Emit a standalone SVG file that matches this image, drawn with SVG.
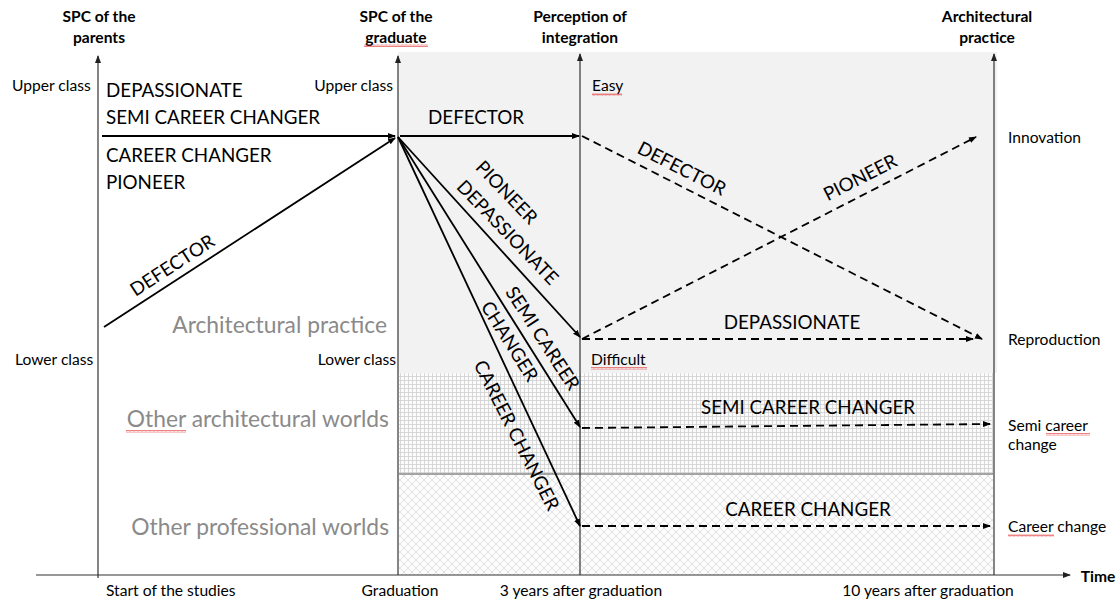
<svg xmlns="http://www.w3.org/2000/svg" width="1119" height="601" viewBox="0 0 1119 601">
<style>
.t{font-family:Lato,"Open Sans",sans-serif;fill:#000}
.s{font-size:15.6px}
.b{font-size:15.6px;font-weight:bold;text-anchor:middle}
.L{font-size:18.8px}
.g{font-size:22.8px;fill:#8a8a8a;text-anchor:end}
.ax{stroke:#333;stroke-width:1.2;fill:none}
.sol{stroke:#000;stroke-width:1.8;fill:none}
.dash{stroke:#000;stroke-width:1.8;fill:none;stroke-dasharray:8 5}
</style>
<defs>
<marker id="ah" markerWidth="8" markerHeight="8" refX="7" refY="4" orient="auto" markerUnits="userSpaceOnUse"><path d="M0,1 L8,4 L0,7 Z" fill="#000"/></marker>
<marker id="aax" markerWidth="8" markerHeight="10" refX="7" refY="4" orient="auto" markerUnits="userSpaceOnUse"><path d="M0,1 L8,4 L0,7 Z" fill="#222"/></marker>
<pattern id="grid" width="4" height="4" patternUnits="userSpaceOnUse"><rect width="4" height="4" fill="#fbfbfb"/><path d="M0 0.5H4M0.5 0V4" stroke="#cfcfcf" stroke-width="0.8"/></pattern>
<pattern id="cross" width="8" height="8" patternUnits="userSpaceOnUse"><rect width="8" height="8" fill="#fcfcfc"/><path d="M0 0L8 8M8 0L0 8" stroke="#d6d6d6" stroke-width="0.7"/></pattern>
<pattern id="sq" width="4" height="3" patternUnits="userSpaceOnUse"><path d="M0 2.5L1 0.5L2 2.5L3 0.5L4 2.5" stroke="#e03030" stroke-width="0.6" fill="none"/></pattern>
</defs>

<g id="regions">
<rect x="398" y="52" width="599" height="321" fill="#f2f2f2"/>
<rect x="399" y="373" width="594" height="101" fill="url(#grid)"/>
<rect x="399" y="474" width="594" height="101" fill="url(#cross)"/>
<line x1="399" y1="474" x2="993" y2="474" stroke="#555" stroke-width="1.2"/>
</g>

<g id="axes">
<line class="ax" x1="98" y1="578" x2="98" y2="56" marker-end="url(#aax)"/>
<line class="ax" x1="398" y1="575" x2="398" y2="56" marker-end="url(#aax)"/>
<line class="ax" x1="580" y1="575" x2="580" y2="54" marker-end="url(#aax)"/>
<line class="ax" x1="994" y1="575" x2="994" y2="54" marker-end="url(#aax)"/>
<line class="ax" x1="36" y1="575" x2="1070" y2="575" marker-end="url(#aax)"/>
</g>

<g id="axis-labels">
<text class="t b" x="99" y="22">SPC of the</text>
<text class="t b" x="99" y="43">parents</text>
<text class="t b" x="396" y="22">SPC of the</text>
<text class="t b" x="396" y="43">graduate</text>
<text class="t b" x="580" y="22">Perception of</text>
<text class="t b" x="580" y="43">integration</text>
<text class="t b" x="987" y="22">Architectural</text>
<text class="t b" x="987" y="43">practice</text>
<text class="t b" x="1098" y="582">Time</text>
<text class="t s" x="12" y="91">Upper class</text>
<text class="t s" x="393" y="91" text-anchor="end">Upper class</text>
<text class="t s" x="15" y="365">Lower class</text>
<text class="t s" x="396" y="365" text-anchor="end">Lower class</text>
<text class="t s" x="592" y="91">Easy</text>
<text class="t s" x="591" y="365">Difficult</text>
<text class="t s" x="106" y="596">Start of the studies</text>
<text class="t s" x="400" y="596" text-anchor="middle">Graduation</text>
<text class="t s" x="581" y="596" text-anchor="middle">3 years after graduation</text>
<text class="t s" x="928" y="596" text-anchor="middle">10 years after graduation</text>
<text class="t s" x="1008" y="143">Innovation</text>
<text class="t s" x="1008" y="345">Reproduction</text>
<text class="t s" x="1008" y="431">Semi career</text>
<text class="t s" x="1008" y="450">change</text>
<text class="t s" x="1008" y="532">Career change</text>
<text class="t g" x="387" y="333">Architectural practice</text>
<text class="t g" x="389" y="427">Other architectural worlds</text>
<text class="t g" x="389" y="535">Other professional worlds</text>
</g>

<g id="spellmarks">
<rect x="364" y="44" width="64" height="3" fill="url(#sq)"/>
<rect x="592" y="93" width="30" height="3" fill="url(#sq)"/>
<rect x="591" y="367" width="56" height="3" fill="url(#sq)"/>
<rect x="126" y="430" width="60" height="3" fill="url(#sq)"/>
<rect x="1046" y="433" width="44" height="3" fill="url(#sq)"/>
<rect x="1008" y="534" width="46" height="3" fill="url(#sq)"/>
</g>

<g id="connectors">
<line class="sol" x1="102" y1="136" x2="395" y2="136" marker-end="url(#ah)"/>
<line class="sol" x1="104" y1="327" x2="395" y2="138" marker-end="url(#ah)"/>
<line class="sol" x1="400" y1="136" x2="579" y2="136" marker-end="url(#ah)"/>
<line class="sol" x1="398" y1="137" x2="580" y2="337" marker-end="url(#ah)"/>
<line class="sol" x1="398" y1="137" x2="580" y2="427" marker-end="url(#ah)"/>
<line class="sol" x1="398" y1="137" x2="580" y2="526" marker-end="url(#ah)"/>
<line class="dash" x1="582" y1="136" x2="982" y2="339" marker-end="url(#ah)"/>
<line class="dash" x1="582" y1="339" x2="976" y2="137" marker-end="url(#ah)"/>
<line class="dash" x1="582" y1="339" x2="973" y2="339" marker-end="url(#ah)"/>
<line class="dash" x1="582" y1="428" x2="990" y2="424" marker-end="url(#ah)"/>
<line class="dash" x1="582" y1="526" x2="990" y2="526" marker-end="url(#ah)"/>
</g>

<g id="path-labels">
<text class="t L" x="106" y="97">DEPASSIONATE</text>
<text class="t L" x="106" y="124">SEMI CAREER CHANGER</text>
<text class="t L" x="106" y="162">CAREER CHANGER</text>
<text class="t L" x="106" y="189">PIONEER</text>
<text class="t L" x="172" y="272" text-anchor="middle" transform="rotate(-33 172 265)">DEFECTOR</text>
<text class="t L" x="428" y="124">DEFECTOR</text>
<text class="t L" x="507" y="199" text-anchor="middle" transform="rotate(46 507 192)">PIONEER</text>
<text class="t L" x="508" y="239" text-anchor="middle" transform="rotate(46 508 232)">DEPASSIONATE</text>
<text class="t L" x="543" y="345" text-anchor="middle" transform="rotate(57 543 338)">SEMI CAREER</text>
<text class="t L" x="510" y="348" text-anchor="middle" transform="rotate(58 510 341)">CHANGER</text>
<text class="t L" x="517" y="442" text-anchor="middle" transform="rotate(63 517 435)">CAREER CHANGER</text>
<text class="t L" x="682" y="175" text-anchor="middle" transform="rotate(27 682 168)">DEFECTOR</text>
<text class="t L" x="860" y="184" text-anchor="middle" transform="rotate(-27 860 177)">PIONEER</text>
<text class="t L" x="792" y="329" text-anchor="middle">DEPASSIONATE</text>
<text class="t L" x="808" y="414" text-anchor="middle">SEMI CAREER CHANGER</text>
<text class="t L" x="808" y="516" text-anchor="middle">CAREER CHANGER</text>
</g>
</svg>
